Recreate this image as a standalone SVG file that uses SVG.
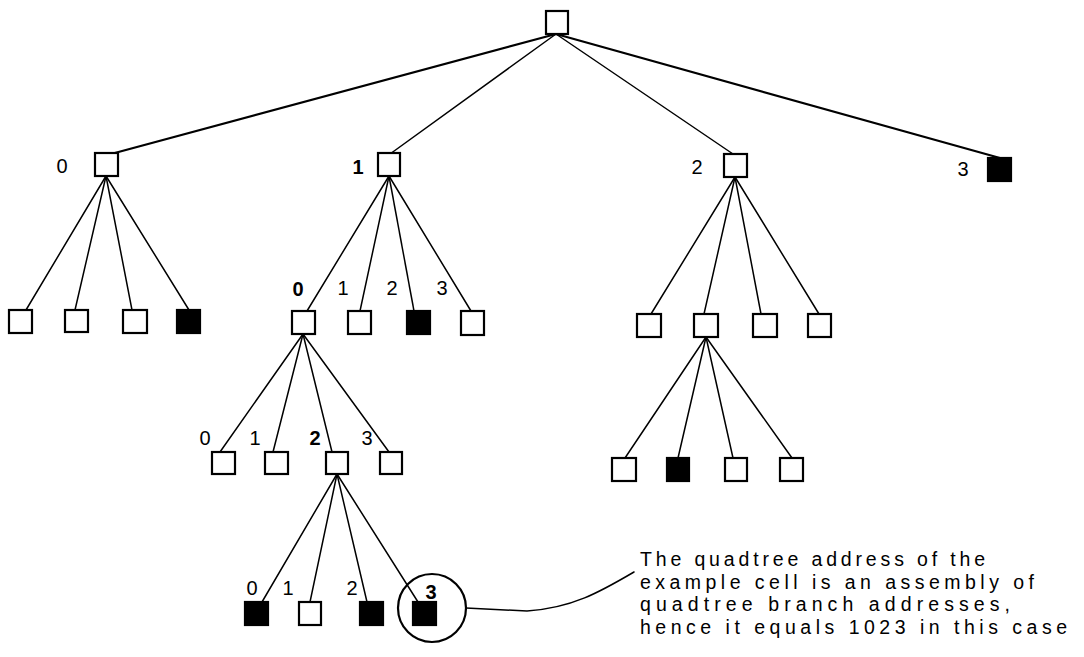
<svg xmlns="http://www.w3.org/2000/svg" width="1084" height="657" viewBox="0 0 1084 657">
  <style>
    .cell { fill: #fff; stroke: #000; stroke-width: 2.2; }
    .full { fill: #000; stroke: #000; stroke-width: 2.2; }
    .edge { stroke: #000; stroke-width: 1.5; fill: none; stroke-linecap: round; }
    .edge.heavy { stroke-width: 2.2; }
    .lbl { font-family: "Liberation Sans", Arial, sans-serif; font-size: 20px; fill: #000; text-anchor: middle; }
    .lbl.b { font-weight: bold; }
    .note { font-family: "Liberation Sans", Arial, sans-serif; font-size: 19.5px; fill: #000; }
  </style>
  <rect width="1084" height="657" fill="#fff"/>

  <!-- branches -->
  <g id="connectors">
    <!-- root to level 1 -->
    <line class="edge heavy" x1="556" y1="34" x2="111" y2="154"/>
    <line class="edge" x1="556" y1="34" x2="390" y2="154"/>
    <line class="edge" x1="556" y1="34" x2="733" y2="154"/>
    <line class="edge heavy" x1="556" y1="34" x2="1000" y2="158"/>
    <!-- under node 0 -->
    <line class="edge" x1="106" y1="176" x2="26" y2="310"/>
    <line class="edge" x1="106" y1="176" x2="75" y2="310"/>
    <line class="edge" x1="106" y1="176" x2="132" y2="310"/>
    <line class="edge" x1="106" y1="176" x2="189" y2="310"/>
    <!-- under node 1 -->
    <line class="edge" x1="389" y1="176" x2="307" y2="311"/>
    <line class="edge" x1="389" y1="176" x2="360" y2="311"/>
    <line class="edge" x1="389" y1="176" x2="414" y2="311"/>
    <line class="edge" x1="389" y1="176" x2="471" y2="311"/>
    <!-- under node 2 -->
    <line class="edge" x1="735" y1="177" x2="651" y2="314"/>
    <line class="edge" x1="735" y1="177" x2="704" y2="314"/>
    <line class="edge" x1="735" y1="177" x2="761" y2="314"/>
    <line class="edge" x1="735" y1="177" x2="819" y2="314"/>
    <!-- under node 10 -->
    <line class="edge" x1="303" y1="334" x2="220" y2="452"/>
    <line class="edge" x1="303" y1="334" x2="273" y2="452"/>
    <line class="edge" x1="303" y1="334" x2="332" y2="452"/>
    <line class="edge" x1="303" y1="334" x2="389" y2="452"/>
    <!-- under node 21 -->
    <line class="edge" x1="706" y1="337" x2="625" y2="458"/>
    <line class="edge" x1="706" y1="337" x2="678" y2="458"/>
    <line class="edge" x1="706" y1="337" x2="733" y2="458"/>
    <line class="edge" x1="706" y1="337" x2="792" y2="458"/>
    <!-- under node 102 -->
    <line class="edge" x1="337" y1="474" x2="262" y2="602"/>
    <line class="edge" x1="337" y1="474" x2="310" y2="602"/>
    <line class="edge" x1="337" y1="474" x2="367" y2="602"/>
    <line class="edge" x1="337" y1="474" x2="418" y2="602"/>
    <!-- leader to the note -->
    <path class="edge" d="M466,608 L527,611 C572,608 600,592 634,572"/>
  </g>

  <g id="root"><rect class="cell" x="546" y="11" width="22" height="23"/></g>

  <!-- level 1 -->
  <g id="n0"><rect class="cell" x="95" y="153" width="23" height="23"/><text class="lbl" x="62" y="173">0</text></g>
  <g id="n1"><rect class="cell" x="378" y="153" width="22" height="23"/><text class="lbl b" x="358" y="174">1</text></g>
  <g id="n2"><rect class="cell" x="724" y="154" width="23" height="23"/><text class="lbl" x="697" y="174">2</text></g>
  <g id="n3"><rect class="full" x="988" y="158" width="23" height="23"/><text class="lbl" x="963" y="176">3</text></g>

  <!-- level 2 under 0 -->
  <g id="n00"><rect class="cell" x="9" y="310" width="23" height="23"/></g>
  <g id="n01"><rect class="cell" x="65" y="310" width="23" height="22"/></g>
  <g id="n02"><rect class="cell" x="123" y="310" width="24" height="23"/></g>
  <g id="n03"><rect class="full" x="177" y="310" width="23" height="23"/></g>

  <!-- level 2 under 1 -->
  <g id="n10"><rect class="cell" x="292" y="311" width="23" height="23"/><text class="lbl b" x="298" y="296">0</text></g>
  <g id="n11"><rect class="cell" x="348" y="311" width="23" height="23"/><text class="lbl" x="343" y="295">1</text></g>
  <g id="n12"><rect class="full" x="407" y="311" width="23" height="23"/><text class="lbl" x="392" y="295">2</text></g>
  <g id="n13"><rect class="cell" x="461" y="311" width="23" height="24"/><text class="lbl" x="442" y="295">3</text></g>

  <!-- level 2 under 2 -->
  <g id="n20"><rect class="cell" x="637" y="314" width="24" height="23"/></g>
  <g id="n21"><rect class="cell" x="694" y="314" width="24" height="23"/></g>
  <g id="n22"><rect class="cell" x="753" y="314" width="24" height="23"/></g>
  <g id="n23"><rect class="cell" x="808" y="314" width="23" height="23"/></g>

  <!-- level 3 under 10 -->
  <g id="n100"><rect class="cell" x="212" y="452" width="23" height="22"/><text class="lbl" x="205" y="445">0</text></g>
  <g id="n101"><rect class="cell" x="265" y="452" width="23" height="22"/><text class="lbl" x="255" y="445">1</text></g>
  <g id="n102"><rect class="cell" x="326" y="452" width="22" height="22"/><text class="lbl b" x="315" y="445">2</text></g>
  <g id="n103"><rect class="cell" x="380" y="452" width="22" height="22"/><text class="lbl" x="367" y="445">3</text></g>

  <!-- level 3 under 21 -->
  <g id="n210"><rect class="cell" x="612" y="458" width="24" height="23"/></g>
  <g id="n211"><rect class="full" x="667" y="458" width="22" height="23"/></g>
  <g id="n212"><rect class="cell" x="725" y="458" width="22" height="23"/></g>
  <g id="n213"><rect class="cell" x="780" y="458" width="23" height="23"/></g>

  <!-- level 4 under 102 -->
  <g id="n1020"><rect class="full" x="245" y="602" width="23" height="23"/><text class="lbl" x="252" y="595">0</text></g>
  <g id="n1021"><rect class="cell" x="299" y="602" width="22" height="23"/><text class="lbl" x="288" y="595">1</text></g>
  <g id="n1022"><rect class="full" x="360" y="602" width="23" height="23"/><text class="lbl" x="352" y="595">2</text></g>
  <g id="n1023">
    <rect class="full" x="413" y="602" width="23" height="23"/>
    <text class="lbl b" x="431" y="599">3</text>
    <circle cx="432" cy="608" r="34" fill="none" stroke="#000" stroke-width="2.2"/>
  </g>

  <g id="note">
    <text class="note" x="640" y="566" textLength="345" lengthAdjust="spacing">The quadtree address of the</text>
    <text class="note" x="640" y="588.5" textLength="394" lengthAdjust="spacing">example cell is an assembly of</text>
    <text class="note" x="640" y="611" textLength="370" lengthAdjust="spacing">quadtree branch addresses,</text>
    <text class="note" x="640" y="633.5" textLength="427" lengthAdjust="spacing">hence it equals 1023 in this case</text>
  </g>
</svg>
